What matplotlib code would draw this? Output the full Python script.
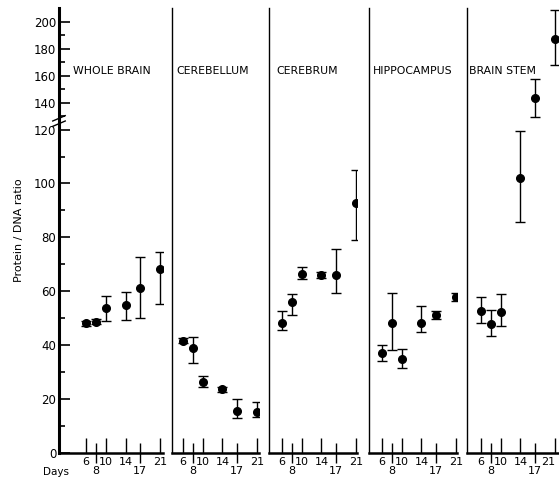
import numpy as np
import matplotlib
matplotlib.use("Agg")
import matplotlib.pyplot as plt
from matplotlib.ticker import FixedLocator, NullFormatter, FixedFormatter

# ---------------- data ----------------
days = [6, 8, 10, 14, 17, 21]
panel_titles = ["WHOLE BRAIN", "CEREBELLUM", "CEREBRUM", "HIPPOCAMPUS", "BRAIN STEM"]

whole_brain = [48.1, 48.7, 53.7, 54.9, 61.1, 68.2]
whole_brain_lo = [1.0, 1.0, 4.7, 5.5, 11.1, 12.9]
whole_brain_hi = [1.0, 1.0, 4.7, 4.8, 11.5, 6.5]

cerebellum = [41.7, 38.8, 26.5, 23.6, 15.7, 15.3]
cerebellum_lo = [1.0, 5.3, 2.1, 1.0, 2.8, 1.8]
cerebellum_hi = [1.0, 4.3, 2.1, 1.0, 4.2, 3.5]

cerebrum = [48.4, 56.1, 66.4, 66.0, 66.0, 92.6]
cerebrum_lo = [2.8, 4.9, 1.8, 1.2, 6.7, 13.6]
cerebrum_hi = [4.4, 2.9, 2.7, 1.2, 9.6, 12.4]

hippocampus = [37.0, 48.4, 34.8, 48.1, 51.2, 58.0]
hippocampus_lo = [2.7, 10.2, 3.4, 3.1, 1.5, 1.5]
hippocampus_hi = [3.1, 10.9, 3.7, 6.4, 1.5, 1.5]

brain_stem = [52.8, 47.9, 52.4, 101.9, 143.6, 187.1]
brain_stem_lo = [4.7, 4.5, 5.2, 16.3, 14.2, 19.3]
brain_stem_hi = [5.2, 5.2, 6.5, 17.6, 14.3, 21.6]

y_major = [0, 20, 40, 60, 80, 100, 120, 140, 160, 180, 200]
y_minor = [10, 30, 50, 70, 90, 110, 130, 150, 170, 190]
x_major = [6, 10, 14, 21]
x_minor = [8, 17]

series = [
    (whole_brain, whole_brain_lo, whole_brain_hi),
    (cerebellum, cerebellum_lo, cerebellum_hi),
    (cerebrum, cerebrum_lo, cerebrum_hi),
    (hippocampus, hippocampus_lo, hippocampus_hi),
    (brain_stem, brain_stem_lo, brain_stem_hi),
]

# ---------------- layout ----------------
W, H = 559, 480
fig = plt.figure(figsize=(W / 100, H / 100), dpi=100)
fig.patch.set_facecolor("white")

px_per_day = 4.93
y_bot_px, y_top_px = 453, 8.3
panel_left_px = [59, 172, 269, 369, 467]
panel_xlims = [(0.5, 21.6), (3.77, 21.5), (3.36, 21.3), (3.36, 21.3), (3.16, 21.6)]

BREAK = 120.0


def fwd(y):
    y = np.asarray(y, dtype=float)
    return np.where(y <= BREAK, y, BREAK + (y - BREAK) / 2.0)


def inv(t):
    t = np.asarray(t, dtype=float)
    return np.where(t <= BREAK, t, BREAK + (t - BREAK) * 2.0)


font = "DejaVu Sans"
axes = []
for i, (left_px, xl) in enumerate(zip(panel_left_px, panel_xlims)):
    w_px = (xl[1] - xl[0]) * px_per_day
    ax = fig.add_axes([left_px / W, 1 - y_bot_px / H, w_px / W, (y_bot_px - y_top_px) / H])
    ax.set_facecolor("none")
    ax.set_yscale("function", functions=(fwd, inv))
    ax.set_ylim(0, 210)
    ax.set_xlim(*xl)
    for s in ["top", "right"]:
        ax.spines[s].set_visible(False)
    ax.spines["left"].set_linewidth(2.2 if i == 0 else 1.0)
    ax.spines["bottom"].set_linewidth(1.8)

    vals, lo, hi = series[i]
    ax.errorbar(days, vals, yerr=[lo, hi], fmt="o", color="black", ms=5.5,
                elinewidth=1.0, capsize=3.5, capthick=1.0, zorder=3)

    # x ticks
    ax.xaxis.set_major_locator(FixedLocator(x_major))
    ax.xaxis.set_minor_locator(FixedLocator(x_minor))
    ax.set_xticklabels([str(d) for d in x_major], fontsize=8, family=font)
    ax.xaxis.set_minor_formatter(FixedFormatter([str(d) for d in x_minor]))
    ax.tick_params(axis="x", which="major", direction="in", length=11, width=1.0, pad=3)
    ax.tick_params(axis="x", which="minor", direction="inout", length=14, width=1.0, pad=2,
                   labelsize=8)
    for lab in ax.xaxis.get_minorticklabels():
        lab.set_family(font)
    if i == len(panel_left_px) - 1:
        ax.get_xticklabels()[-1].set_horizontalalignment("right")

    # y ticks
    if i == 0:
        ax.yaxis.set_major_locator(FixedLocator(y_major))
        ax.yaxis.set_minor_locator(FixedLocator(y_minor))
        ax.yaxis.set_minor_formatter(NullFormatter())
        ax.set_yticklabels([str(v) for v in y_major], fontsize=8.5, family=font)
        ax.tick_params(axis="y", which="major", direction="in", length=8, width=1.2, pad=2)
        ax.tick_params(axis="y", which="minor", direction="in", length=4, width=1.2)
        # axis break mark
        tr = ax.transAxes
        yb = (y_bot_px - 121) / (y_bot_px - y_top_px)
        for dy in (-0.006, 0.006):
            ax.plot([-0.06, 0.06], [yb + dy - 0.006, yb + dy + 0.006], transform=tr,
                    color="black", lw=1.0, clip_on=False)
        ax.set_ylabel("Protein / DNA ratio", fontsize=8, family=font, labelpad=7)
    else:
        ax.yaxis.set_major_locator(FixedLocator([]))
        ax.yaxis.set_minor_locator(FixedLocator([]))
    axes.append(ax)

# panel titles (pixel positions of their left edges)
title_x_px = [73, 176, 276, 373, 469]
for x_px, t in zip(title_x_px, panel_titles):
    fig.text(x_px / W, 1 - 71 / H, t, fontsize=7.8, family=font, ha="left", va="center")

fig.text(43 / W, 1 - 472 / H, "Days", fontsize=7.5, family=font, ha="left", va="center")

fig.savefig("out.png", dpi=100, facecolor="white")
